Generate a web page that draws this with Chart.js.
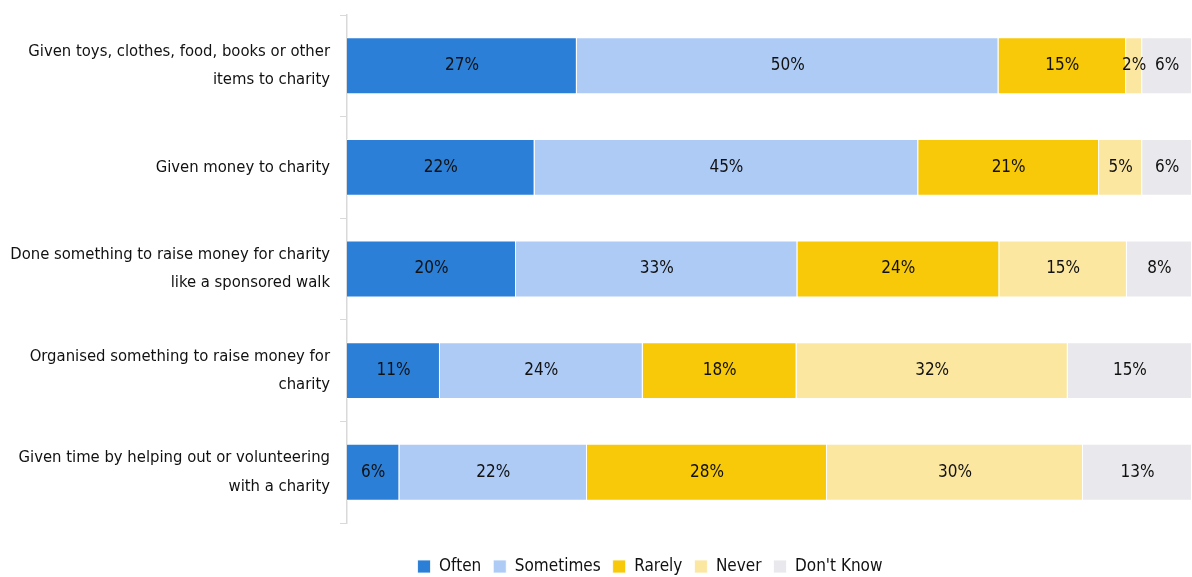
<!DOCTYPE html>
<html lang="en">
<head>
  <meta charset="UTF-8">
  <title>Charity activities</title>
  <script src="https://cdn.jsdelivr.net/npm/chart.js"></script>
  <style>
    html, body { margin: 0; padding: 0; background: #fff; }
    .wrap { width: 1192px; height: 577px; }
  </style>
</head>
<body>
  <div class="wrap"><canvas id="charityChart" width="1192" height="577"></canvas></div>

  <script>
// categories (y axis), two lines each
const categories = [
    ['Given toys, clothes, food, books or other', 'items to charity'],
    'Given money to charity',
    ['Done something to raise money for charity', 'like a sponsored walk'],
    ['Organised something to raise money for', 'charity'],
    ['Given time by helping out or volunteering', 'with a charity']
];

// series values (%)
const often     = [27.2, 22.2, 20.0, 11.0, 6.2];
const sometimes = [49.9, 45.4, 33.3, 24.0, 22.2];
const rarely    = [15.1, 21.4, 23.9, 18.2, 28.4];
const never     = [1.9,  5.1,  15.1, 32.1, 30.3];
const dontKnow  = [5.9,  5.9,  7.7,  14.7, 12.9];

const seriesNames = ['Often', 'Sometimes', 'Rarely', 'Never', "Don't Know"];

const FONT = "'Liberation Sans Narrow', 'DejaVu Sans Condensed', 'Liberation Sans', sans-serif";

// draws the % value in the middle of each segment
const barLabels = {
    id: 'barLabels',
    afterDatasetsDraw(chart) {
        const ctx = chart.ctx;
        ctx.save();
        ctx.font = '17px ' + FONT;
        ctx.fillStyle = '#111';
        ctx.textAlign = 'center';
        ctx.textBaseline = 'middle';
        chart.data.datasets.forEach((ds, i) => {
            chart.getDatasetMeta(i).data.forEach((bar, j) => {
                const mid = (bar.x + bar.base) / 2;
                ctx.fillText(Math.round(ds.data[j]) + '%', mid, bar.y);
            });
        });
        ctx.restore();
    }
};

// legend in the original sits centred under the bars and a bit lower
const legendShift = {
    id: 'legendShift',
    afterLayout(chart) {
        const lg = chart.legend;
        lg.left += 54;
        lg.right += 54;
        lg.top += 23;
        lg.bottom += 23;
    }
};

const ctx = document.getElementById('charityChart').getContext('2d');
const charityChart = new Chart(ctx, {
    type: 'bar',
    data: {
        labels: categories,
        datasets: [
            { label: seriesNames[0], data: often,     backgroundColor: '#2B7FD7' },
            { label: seriesNames[1], data: sometimes, backgroundColor: '#AECBF6' },
            { label: seriesNames[2], data: rarely,    backgroundColor: '#F7C909' },
            { label: seriesNames[3], data: never,     backgroundColor: '#FCE7A1' },
            { label: seriesNames[4], data: dontKnow,  backgroundColor: '#E9E8EC' }
        ].map(d => Object.assign(d, {
            borderColor: 'rgba(255,255,255,0.8)',
            borderWidth: 1,
            barPercentage: 0.56,
            categoryPercentage: 1.0
        }))
    },
    options: {
        indexAxis: 'y',
        responsive: false,
        animation: false,
        layout: { padding: { top: 15, right: 0, bottom: 15, left: 0 } },
        scales: {
            x: {
                stacked: true,
                min: 0,
                max: 100,
                display: false
            },
            y: {
                stacked: true,
                afterFit(scale) {
                    scale.width = 347;
                    scale.paddingTop = 0;
                    scale.paddingBottom = 0;
                },
                grid: {
                    offset: true,
                    drawOnChartArea: false,
                    drawTicks: true,
                    tickLength: 7,
                    color: '#d9d9d9'
                },
                border: { display: true, color: '#d9d9d9', width: 1.5 },
                ticks: {
                    color: '#111',
                    padding: 10,
                    font: { family: FONT, size: 16.5, lineHeight: 1.7 }
                }
            }
        },
        plugins: {
            legend: {
                position: 'bottom',
                labels: {
                    color: '#111',
                    boxWidth: 13,
                    boxHeight: 13,
                    padding: 12,
                    font: { family: FONT, size: 17 }
                }
            },
            tooltip: { enabled: false }
        }
    },
    plugins: [barLabels, legendShift]
});
  </script>
</body>
</html>
